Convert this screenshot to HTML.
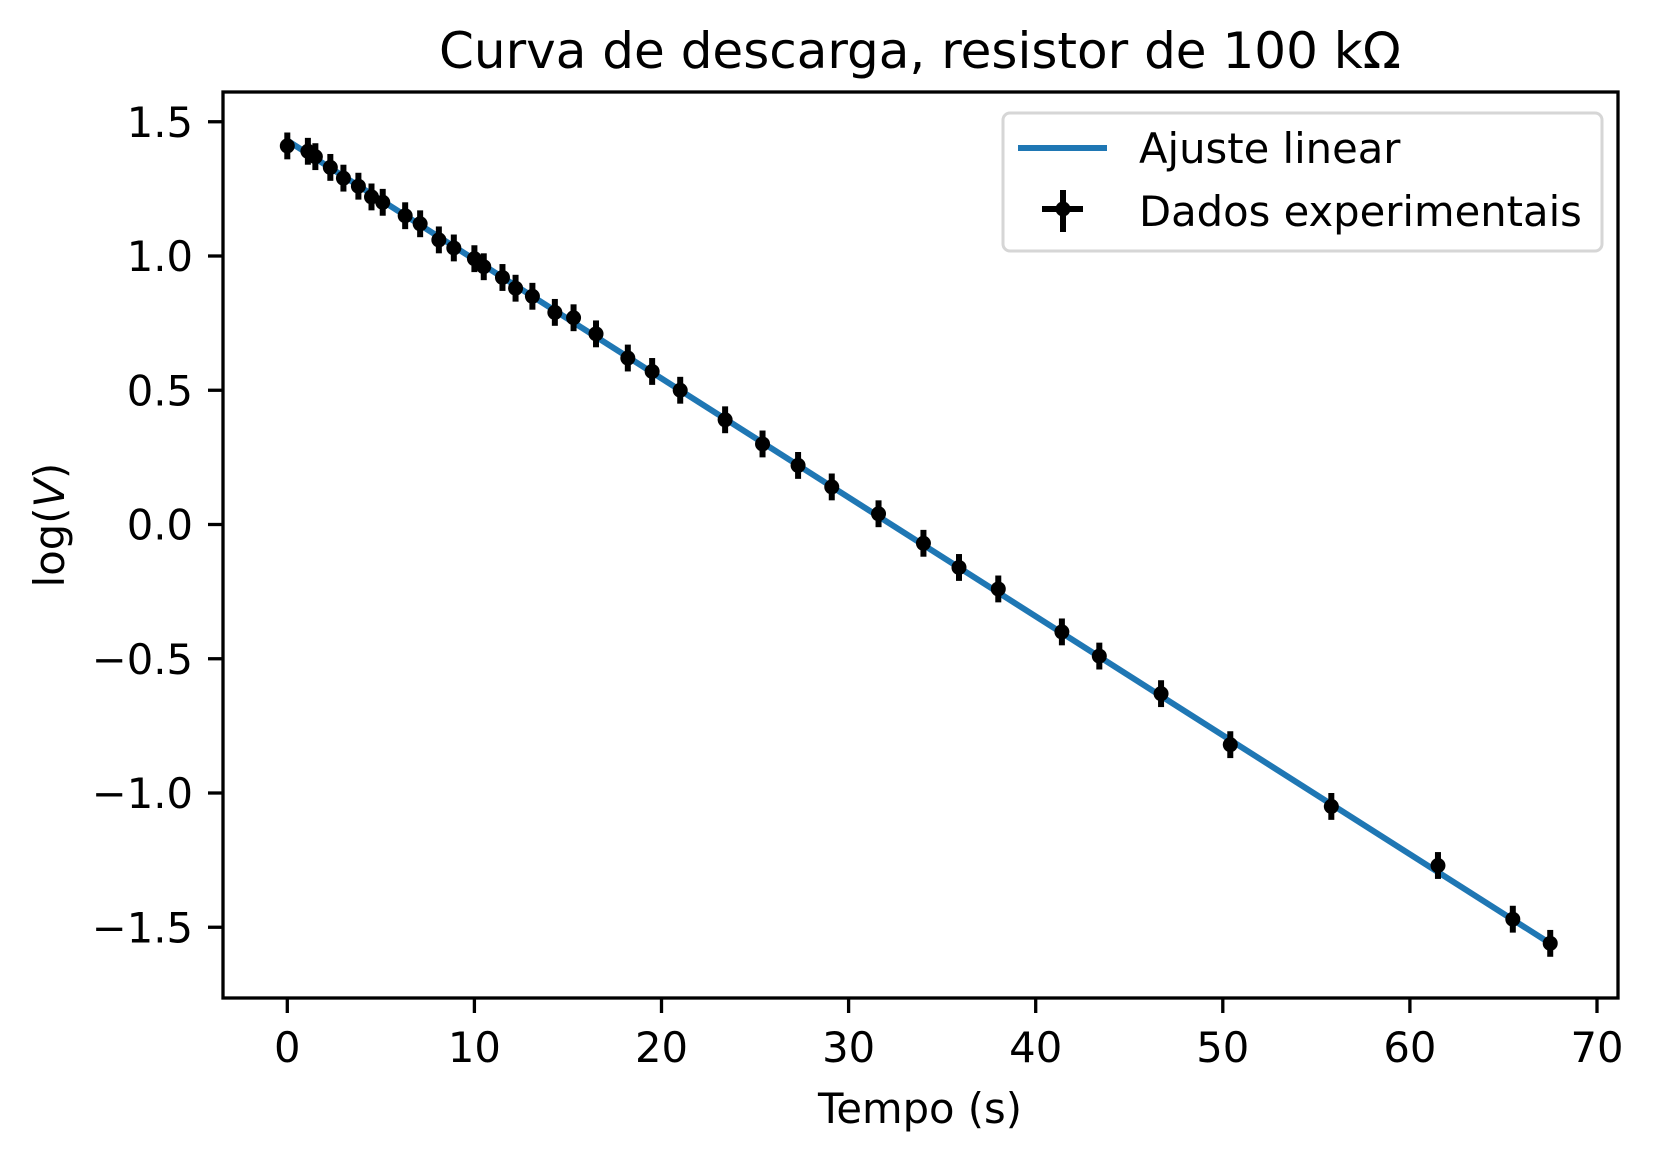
<!DOCTYPE html>
<html><head><meta charset="utf-8"><style>
html,body{margin:0;padding:0;background:#fff;}
svg text{font-family:"DejaVu Sans","Liberation Sans",sans-serif;fill:#000;}
</style></head><body>
<svg id="chart" width="1653" height="1158" viewBox="0 0 1653 1158" xmlns="http://www.w3.org/2000/svg">
<rect width="1653" height="1158" fill="#fff"/>
<text x="920" y="68" font-size="50" text-anchor="middle">Curva de descarga, resistor de 100 kΩ</text>
<g id="plot"></g>
<rect x="223" y="92" width="1395" height="906" fill="none" stroke="#000" stroke-width="3.3"/>
<g id="xticks"></g><g id="yticks"></g>
<text x="920" y="1123" font-size="41.7" text-anchor="middle">Tempo (s)</text>
<text transform="translate(64,525) rotate(-90)" font-size="41.7" text-anchor="middle">log(<tspan font-style="italic">V</tspan>)</text>
<g>
<rect x="1003" y="113" width="599" height="138" rx="7" fill="#fff" fill-opacity="0.8" stroke="#d6d6d6" stroke-width="3"/>
<line x1="1018" y1="148" x2="1107" y2="148" stroke="#1f77b4" stroke-width="6"/>
<text x="1139" y="163" font-size="41.7">Ajuste linear</text>
<line x1="1063" y1="190" x2="1063" y2="232" stroke="#000" stroke-width="6"/>
<line x1="1042" y1="209" x2="1083" y2="209" stroke="#000" stroke-width="6"/>
<circle cx="1063" cy="209" r="7.5" fill="#000"/>
<text x="1139" y="226" font-size="41.7">Dados experimentais</text>
</g>
</svg>
<script>
const times=[0,1.1,1.5,2.3,3.0,3.8,4.5,5.1,6.3,7.1,8.1,8.9,10.0,10.5,11.5,12.2,13.1,14.3,15.3,16.5,18.2,19.5,21.0,23.4,25.4,27.3,29.1,31.6,34.0,35.9,38.0,41.4,43.4,46.7,50.4,55.8,61.5,65.5,67.5];
const logV=[1.41,1.39,1.37,1.33,1.29,1.26,1.22,1.20,1.15,1.12,1.06,1.03,0.99,0.96,0.92,0.88,0.85,0.79,0.77,0.71,0.62,0.57,0.50,0.39,0.30,0.22,0.14,0.04,-0.07,-0.16,-0.24,-0.40,-0.49,-0.63,-0.82,-1.05,-1.27,-1.47,-1.56];
const yErr=0.05;
const xErr=0.1;
const fitIntercept=1.43;
const fitSlope=-0.0443;
const xTicks=[0,10,20,30,40,50,60,70];
const yTicks=[1.5,1.0,0.5,0.0,-0.5,-1.0,-1.5];
const NS="http://www.w3.org/2000/svg";
function X(t){return 287.3+18.71*t;}
function Y(v){return 524.5-268.5*v;}
function mk(tag,attrs,parent){const e=document.createElementNS(NS,tag);for(const k in attrs)e.setAttribute(k,attrs[k]);parent.appendChild(e);return e;}
const plot=document.getElementById('plot');
const t0=times[0],t1=times[times.length-1];
const fit=mk('line',{x1:X(t0),y1:Y(fitIntercept+fitSlope*t0),x2:X(t1),y2:Y(fitIntercept+fitSlope*t1),stroke:'#1f77b4','stroke-width':6},plot);


times.forEach((t,i)=>{
  const g=mk('g',{},plot);
  
  
  mk('line',{x1:X(t),x2:X(t),y1:Y(logV[i]+yErr),y2:Y(logV[i]-yErr),stroke:'#000','stroke-width':6},g);
  mk('line',{x1:X(t-xErr),x2:X(t+xErr),y1:Y(logV[i]),y2:Y(logV[i]),stroke:'#000','stroke-width':6},g);
  mk('circle',{cx:X(t),cy:Y(logV[i]),r:7.5,fill:'#000'},g);
});
const xt=document.getElementById('xticks');
xTicks.forEach(v=>{
  const l=mk('line',{x1:X(v),x2:X(v),y1:998,y2:1013,stroke:'#000','stroke-width':3.3},xt);
  
  
  const tx=mk('text',{x:X(v),y:1062,'font-size':41.7,'text-anchor':'middle'},xt);
  
  
  tx.textContent=String(v);
});
const yt=document.getElementById('yticks');
yTicks.forEach(v=>{
  const l=mk('line',{x1:208,x2:223,y1:Y(v),y2:Y(v),stroke:'#000','stroke-width':3.3},yt);
  
  
  const tx=mk('text',{x:193,y:Y(v)+15,'font-size':41.7,'text-anchor':'end'},yt);
  
  
  tx.textContent=(v<0?'\u2212':'')+Math.abs(v).toFixed(1);
});
</script>
</body></html>
